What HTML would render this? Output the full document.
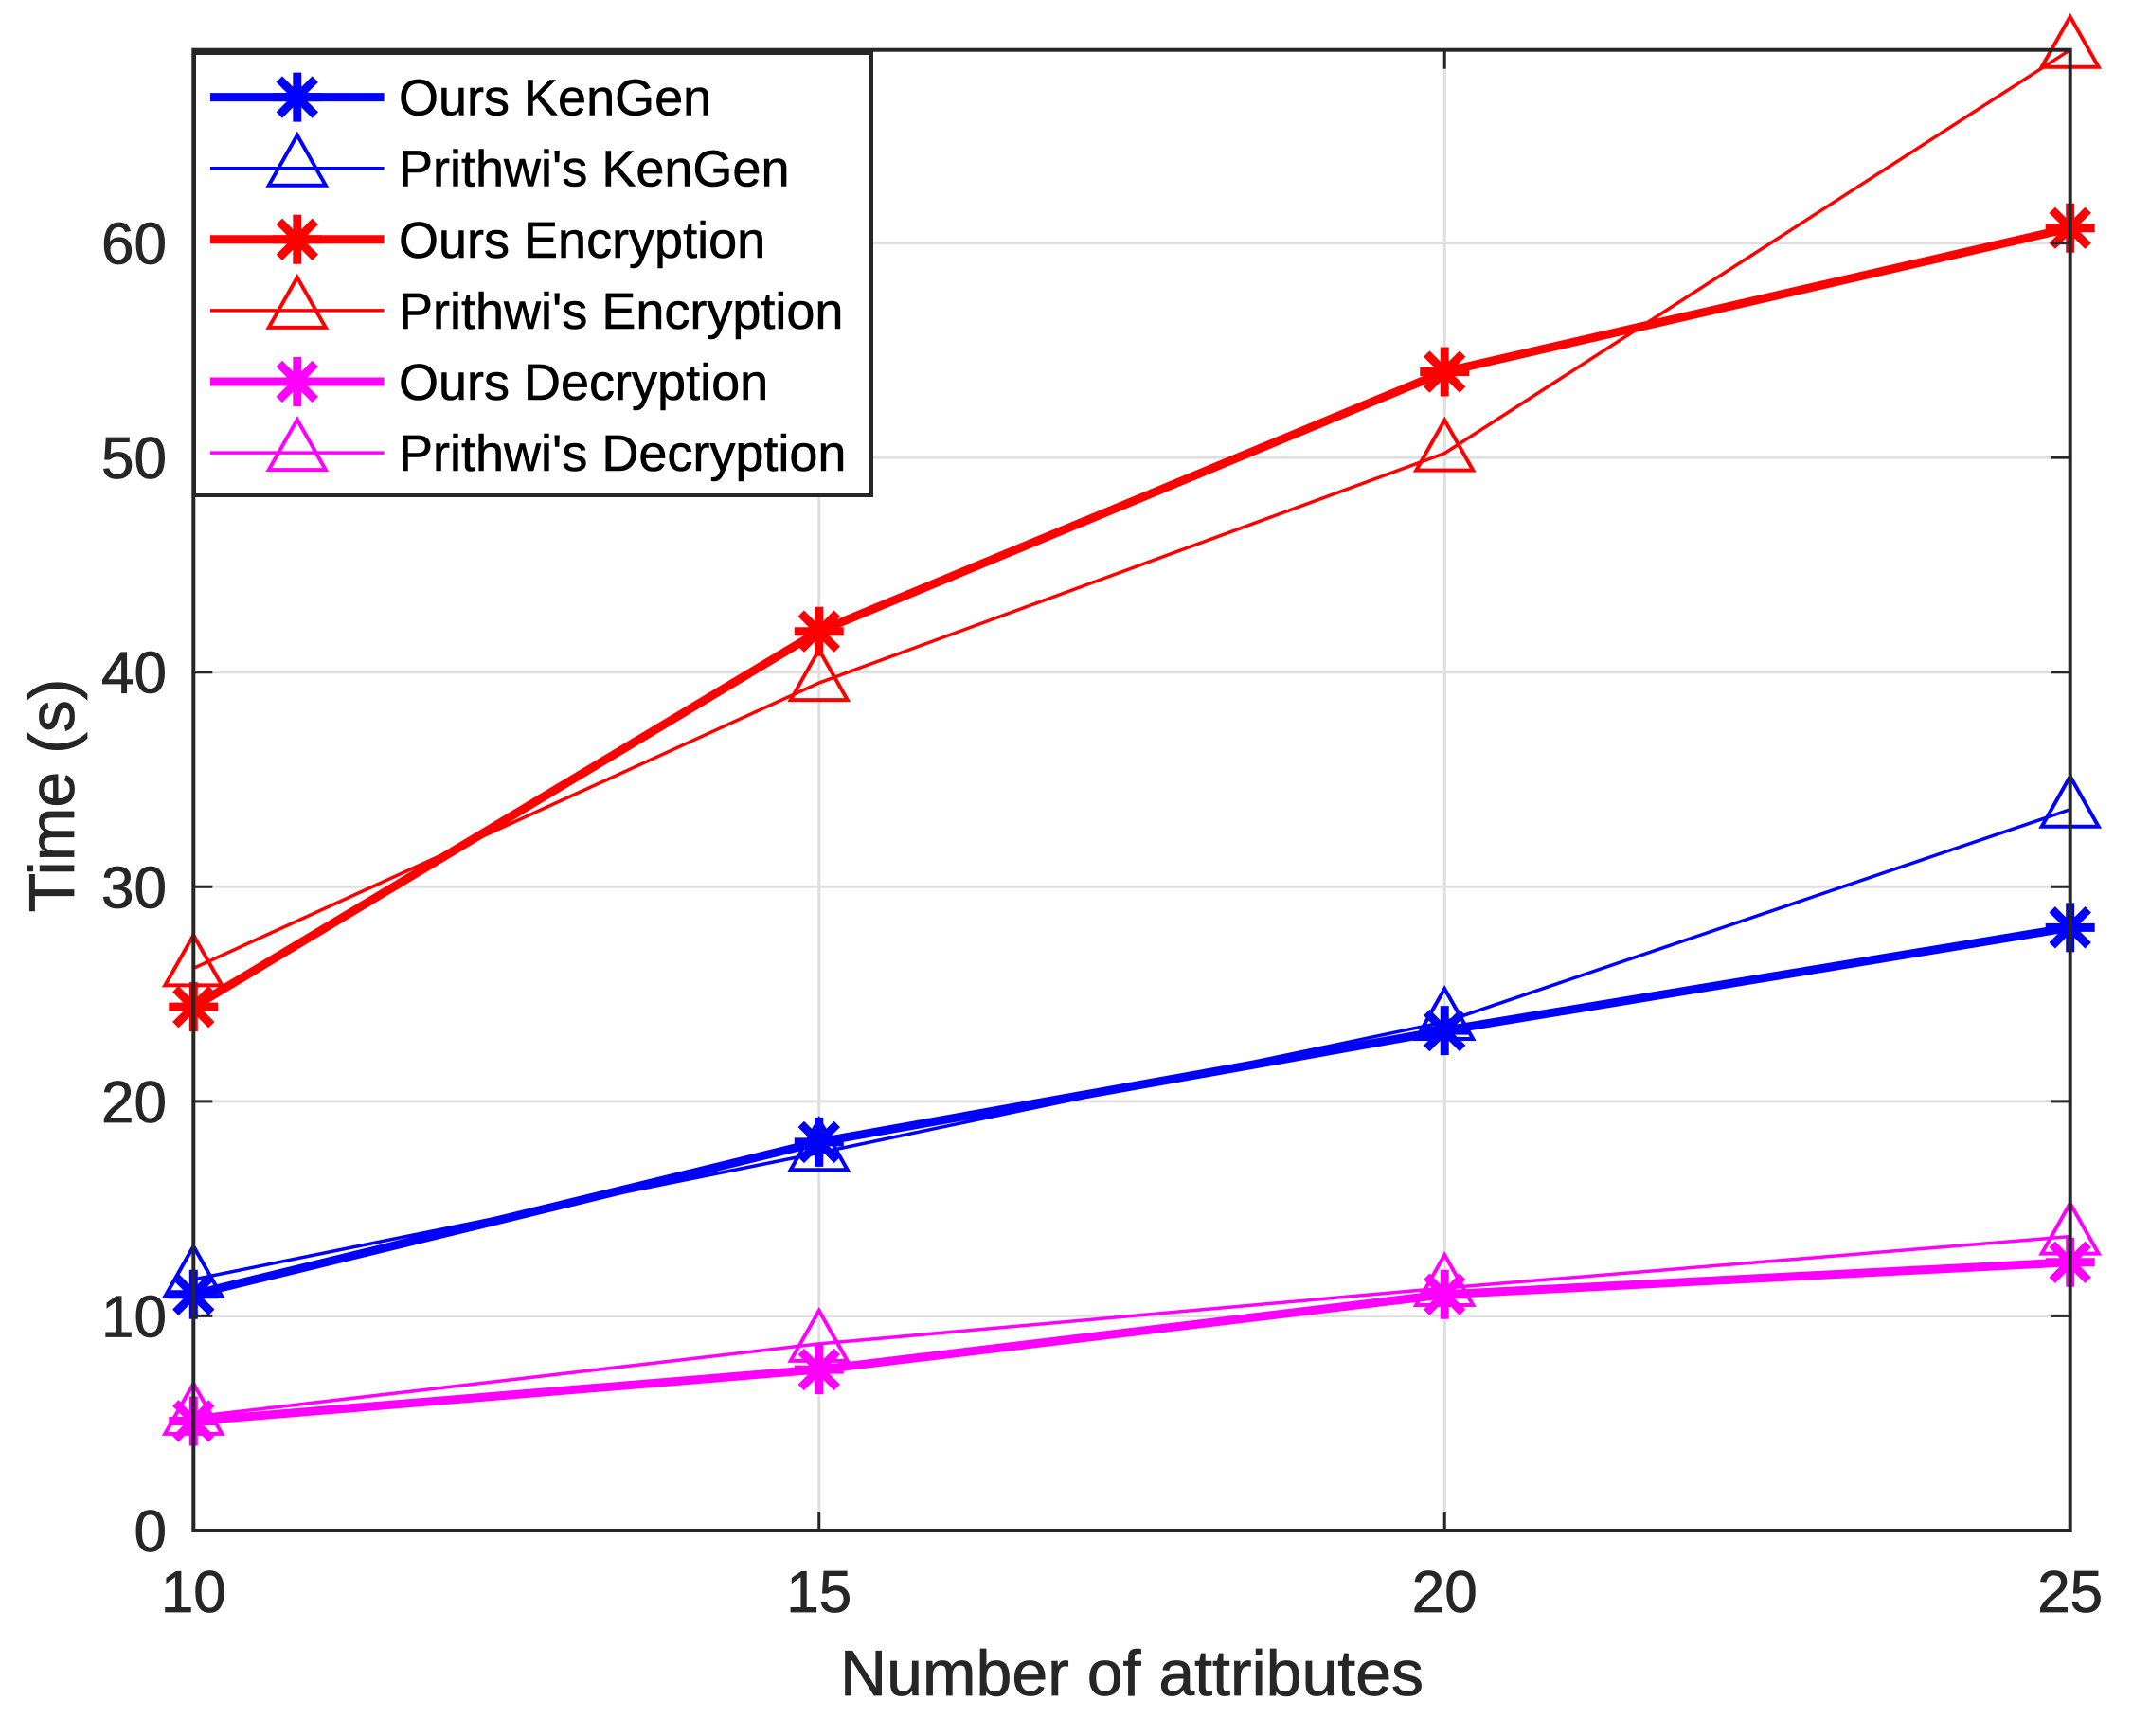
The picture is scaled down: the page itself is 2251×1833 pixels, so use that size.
<!DOCTYPE html>
<html><head><meta charset="utf-8"><style>
html,body{margin:0;padding:0;background:#fff;}
svg{display:block;font-family:"Liberation Sans",Arial,sans-serif;}
</style></head><body>
<svg id="chart" width="2251" height="1833" viewBox="0 0 2251 1833" xmlns="http://www.w3.org/2000/svg">
<rect x="0" y="0" width="2251" height="1833" fill="#fff"/>
<g id="grid"></g>
<g id="series"></g>
<g id="axes"></g>
<g id="legend"></g>
<text x="1195" y="1790" font-size="68" text-anchor="middle" fill="#262626" stroke="#262626" stroke-width="0.8">Number of attributes</text>
<text x="0" y="0" font-size="68" text-anchor="middle" fill="#262626" stroke="#262626" stroke-width="0.8" transform="translate(78,840) rotate(-90)">Time (s)</text>
</svg>
<script>
const categories = [10, 15, 20, 25];
const oursKenGen = [11.0, 18.1, 23.3, 28.1];
const prithwiKenGen = [11.7, 17.6, 23.7, 33.6];
const oursEnc = [24.4, 41.9, 54.0, 60.7];
const prithwiEnc = [26.2, 39.5, 50.2, 69.0];
const oursDec = [5.1, 7.5, 11.0, 12.5];
const prithwiDec = [5.3, 8.7, 11.3, 13.7];
const xTicks = [10, 15, 20, 25];
const yTicks = [0, 10, 20, 30, 40, 50, 60];
const legendLabels = ["Ours KenGen", "Prithwi's KenGen", "Ours Encryption", "Prithwi's Encryption", "Ours Decryption", "Prithwi's Decryption"];

const NS = "http://www.w3.org/2000/svg";
const L = 204.3, R = 2185.7, B = 1616, T = 52.7;
const xMin = 10, xMax = 25, yMin = 0, yMax = 69;
function xs(v){ return L + (v - xMin) / (xMax - xMin) * (R - L); }
function ys(v){ return B - (v - yMin) / (yMax - yMin) * (B - T); }
function mk(tag, attrs, parent){ const e = document.createElementNS(NS, tag); for (const k in attrs) e.setAttribute(k, attrs[k]); parent.appendChild(e); return e; }

const grid = document.getElementById('grid');
xTicks.forEach(t => {
  if (t === xMin || t === xMax) return;
  const g = mk('line', {x1: xs(t), x2: xs(t), y1: T, y2: B, stroke: '#dfdfdf', 'stroke-width': 3}, grid);
  
  
});
yTicks.forEach(t => {
  if (t === yMin) return;
  const g = mk('line', {x1: L, x2: R, y1: ys(t), y2: ys(t), stroke: '#dfdfdf', 'stroke-width': 3}, grid);
  
  
});

const axes = document.getElementById('axes');
const box = mk('rect', {x: L, y: T, width: R - L, height: B - T, fill: 'none', stroke: '#262626', 'stroke-width': 4}, axes);


xTicks.forEach(t => {
  const x = xs(t);
  mk('line', {x1: x, x2: x, y1: B, y2: B - 20, stroke: '#262626', 'stroke-width': 3}, axes);
  mk('line', {x1: x, x2: x, y1: T, y2: T + 20, stroke: '#262626', 'stroke-width': 3}, axes);
  const lb = mk('text', {x: x, y: 1702, 'font-size': 62, 'text-anchor': 'middle', fill: '#262626', stroke: '#262626', 'stroke-width': 0.8}, axes);
  lb.textContent = t;
  
  
});
yTicks.forEach(t => {
  const y = ys(t);
  mk('line', {x1: L, x2: L + 20, y1: y, y2: y, stroke: '#262626', 'stroke-width': 3}, axes);
  mk('line', {x1: R, x2: R - 20, y1: y, y2: y, stroke: '#262626', 'stroke-width': 3}, axes);
  const lb = mk('text', {x: 176, y: y + 22, 'font-size': 62, 'text-anchor': 'end', fill: '#262626', stroke: '#262626', 'stroke-width': 0.8}, axes);
  lb.textContent = t;
  
  
});

function asterisk(cx, cy, color, parent){
  const g = mk('g', {stroke: color, 'stroke-width': 9, 'stroke-linecap': 'butt'}, parent);
  const r = 26, d = 19;
  mk('line', {x1: cx, x2: cx, y1: cy - r, y2: cy + r}, g);
  mk('line', {x1: cx - r, x2: cx + r, y1: cy, y2: cy}, g);
  mk('line', {x1: cx - d, x2: cx + d, y1: cy - d, y2: cy + d}, g);
  mk('line', {x1: cx - d, x2: cx + d, y1: cy + d, y2: cy - d}, g);
  return g;
}
function triangle(cx, cy, color, parent){
  return mk('polygon', {points: `${cx},${cy - 35} ${cx - 30},${cy + 18} ${cx + 30},${cy + 18}`, fill: 'none', stroke: color, 'stroke-width': 4}, parent);
}

const seriesDefs = [
  {name: 'ours-kengen', data: oursKenGen, color: '#0000ff', thick: true},
  {name: 'prithwi-kengen', data: prithwiKenGen, color: '#0000ff', thick: false},
  {name: 'ours-encryption', data: oursEnc, color: '#ff0000', thick: true},
  {name: 'prithwi-encryption', data: prithwiEnc, color: '#ff0000', thick: false},
  {name: 'ours-decryption', data: oursDec, color: '#ff00ff', thick: true},
  {name: 'prithwi-decryption', data: prithwiDec, color: '#ff00ff', thick: false}
];
const sg = document.getElementById('series');
seriesDefs.forEach(s => {
  const pts = s.data.map((v, i) => xs(categories[i]) + ',' + ys(v)).join(' ');
  const pl = mk('polyline', {points: pts, fill: 'none', stroke: s.color, 'stroke-width': s.thick ? 9 : 3.5, 'stroke-linejoin': 'round'}, sg);
  
  
  s.data.forEach((v, i) => {
    const m = s.thick ? asterisk(xs(categories[i]), ys(v), s.color, sg) : triangle(xs(categories[i]), ys(v), s.color, sg);
    
    
  });
});

const lg = document.getElementById('legend');
const lbox = mk('rect', {x: 205, y: 56, width: 715, height: 467, fill: '#fff', stroke: '#262626', 'stroke-width': 4}, lg);


seriesDefs.forEach((s, i) => {
  const y = 102.6 + i * 75.1;
  const g = mk('g', {}, lg);
  
  
  mk('line', {x1: 222, x2: 405.6, y1: y, y2: y, stroke: s.color, 'stroke-width': s.thick ? 9 : 3.5}, g);
  if (s.thick) asterisk(313.8, y, s.color, g); else triangle(313.8, y, s.color, g);
  const t = mk('text', {x: 421, y: y + 19, 'font-size': 54, fill: '#000', stroke: '#000', 'stroke-width': 0.6}, g);
  t.textContent = legendLabels[i];
});
</script>
</body></html>
